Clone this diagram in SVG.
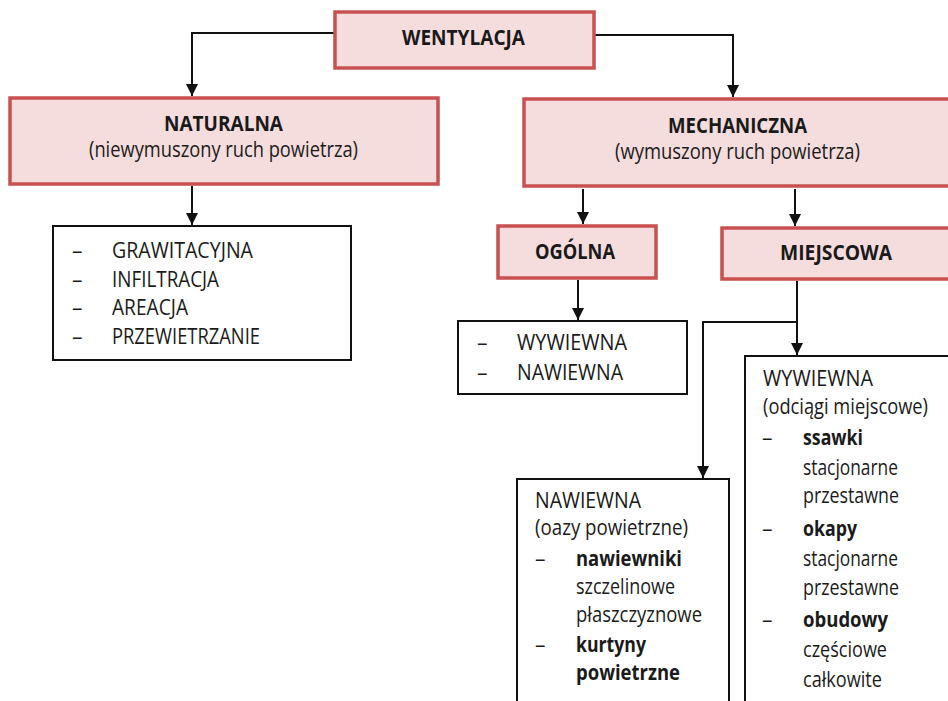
<svg xmlns="http://www.w3.org/2000/svg" width="948" height="701" viewBox="0 0 948 701">
<defs>
<marker id="arr" markerWidth="12" markerHeight="12" viewBox="0 0 12 12" refX="12" refY="6" orient="auto" markerUnits="userSpaceOnUse">
<path d="M0,0 L12,6 L0,12 Z" fill="#111"/>
</marker>
<style>
.red{fill:#f5dddd;stroke:#c8504f;stroke-width:3.5}
.box{fill:#fff;stroke:#111;stroke-width:2}
.t{font-family:"Open Sans","Noto Sans",sans-serif;font-size:21px;fill:#1a1a1a}
.b{font-weight:bold}
.c{text-anchor:middle}
.ln{fill:none;stroke:#111;stroke-width:2}
</style>
</defs>
<rect width="948" height="701" fill="#fff"/>
<g id="connectors">
<path class="ln" d="M335,33 H192 V96" marker-end="url(#arr)"/>
<path class="ln" d="M595,35 H733 V97" marker-end="url(#arr)"/>
<path class="ln" d="M192,186 V225" marker-end="url(#arr)"/>
<path class="ln" d="M583,189 V224" marker-end="url(#arr)"/>
<path class="ln" d="M795,189 V226" marker-end="url(#arr)"/>
<path class="ln" d="M578,280 V320" marker-end="url(#arr)"/>
<path class="ln" d="M797,281 V355" marker-end="url(#arr)"/>
<path class="ln" d="M797,322 H703 V478" marker-end="url(#arr)"/>
</g>
<g id="wentylacja">
<rect class="red" x="335" y="12" width="259" height="56"/>
<text class="t b" x="402" y="45" textLength="123" lengthAdjust="spacingAndGlyphs">WENTYLACJA</text>
</g>
<g id="naturalna">
<rect class="red" x="10" y="98" width="428" height="86"/>
<text class="t b" x="164" y="131" textLength="119" lengthAdjust="spacingAndGlyphs">NATURALNA</text>
<text class="t" x="89" y="157" textLength="269" lengthAdjust="spacingAndGlyphs">(niewymuszony ruch powietrza)</text>
</g>
<g id="mechaniczna">
<rect class="red" x="524" y="99" width="440" height="87"/>
<text class="t b" x="668" y="133" textLength="139" lengthAdjust="spacingAndGlyphs">MECHANICZNA</text>
<text class="t" x="615" y="159" textLength="245" lengthAdjust="spacingAndGlyphs">(wymuszony ruch powietrza)</text>
</g>
<g id="naturalna-list">
<rect class="box" x="53" y="226" width="298" height="134"/>
<text class="t" x="72" y="258">–</text><text class="t" x="112" y="258" textLength="141" lengthAdjust="spacingAndGlyphs">GRAWITACYJNA</text>
<text class="t" x="72" y="287">–</text><text class="t" x="112" y="287" textLength="107" lengthAdjust="spacingAndGlyphs">INFILTRACJA</text>
<text class="t" x="72" y="315">–</text><text class="t" x="112" y="315" textLength="76" lengthAdjust="spacingAndGlyphs">AREACJA</text>
<text class="t" x="72" y="344">–</text><text class="t" x="112" y="344" textLength="148" lengthAdjust="spacingAndGlyphs">PRZEWIETRZANIE</text>
</g>
<g id="ogolna">
<rect class="red" x="498" y="226" width="158" height="52"/>
<text class="t b" x="535" y="259" textLength="80" lengthAdjust="spacingAndGlyphs">OGÓLNA</text>
</g>
<g id="miejscowa">
<rect class="red" x="722" y="228" width="240" height="51"/>
<text class="t b" x="780" y="260" textLength="112" lengthAdjust="spacingAndGlyphs">MIEJSCOWA</text>
</g>
<g id="ogolna-list">
<rect class="box" x="458" y="321" width="229" height="73"/>
<text class="t" x="477" y="350">–</text><text class="t" x="517" y="350" textLength="110" lengthAdjust="spacingAndGlyphs">WYWIEWNA</text>
<text class="t" x="477" y="380">–</text><text class="t" x="517" y="380" textLength="106" lengthAdjust="spacingAndGlyphs">NAWIEWNA</text>
</g>
<g id="wywiewna">
<rect class="box" x="745" y="356" width="220" height="360"/>
<text class="t" x="763" y="386" textLength="110" lengthAdjust="spacingAndGlyphs">WYWIEWNA</text>
<text class="t" x="763" y="414" textLength="165" lengthAdjust="spacingAndGlyphs">(odciągi miejscowe)</text>
<text class="t" x="762" y="445">–</text><text class="t b" x="803" y="445" textLength="60" lengthAdjust="spacingAndGlyphs">ssawki</text>
<text class="t" x="803" y="475" textLength="95" lengthAdjust="spacingAndGlyphs">stacjonarne</text>
<text class="t" x="803" y="503" textLength="96" lengthAdjust="spacingAndGlyphs">przestawne</text>
<text class="t" x="762" y="536">–</text><text class="t b" x="803" y="536" textLength="54" lengthAdjust="spacingAndGlyphs">okapy</text>
<text class="t" x="803" y="566" textLength="95" lengthAdjust="spacingAndGlyphs">stacjonarne</text>
<text class="t" x="803" y="595" textLength="96" lengthAdjust="spacingAndGlyphs">przestawne</text>
<text class="t" x="762" y="627">–</text><text class="t b" x="803" y="627" textLength="85" lengthAdjust="spacingAndGlyphs">obudowy</text>
<text class="t" x="803" y="657" textLength="84" lengthAdjust="spacingAndGlyphs">częściowe</text>
<text class="t" x="803" y="687" textLength="79" lengthAdjust="spacingAndGlyphs">całkowite</text>
</g>
<g id="nawiewna">
<rect class="box" x="517" y="479" width="212" height="240"/>
<text class="t" x="535" y="508" textLength="106" lengthAdjust="spacingAndGlyphs">NAWIEWNA</text>
<text class="t" x="535" y="535" textLength="153" lengthAdjust="spacingAndGlyphs">(oazy powietrzne)</text>
<text class="t" x="535" y="566">–</text><text class="t b" x="576" y="566" textLength="106" lengthAdjust="spacingAndGlyphs">nawiewniki</text>
<text class="t" x="576" y="594" textLength="99" lengthAdjust="spacingAndGlyphs">szczelinowe</text>
<text class="t" x="576" y="622" textLength="126" lengthAdjust="spacingAndGlyphs">płaszczyznowe</text>
<text class="t" x="535" y="652">–</text><text class="t b" x="576" y="652" textLength="70" lengthAdjust="spacingAndGlyphs">kurtyny</text>
<text class="t b" x="576" y="680" textLength="104" lengthAdjust="spacingAndGlyphs">powietrzne</text>
</g>
</svg>
